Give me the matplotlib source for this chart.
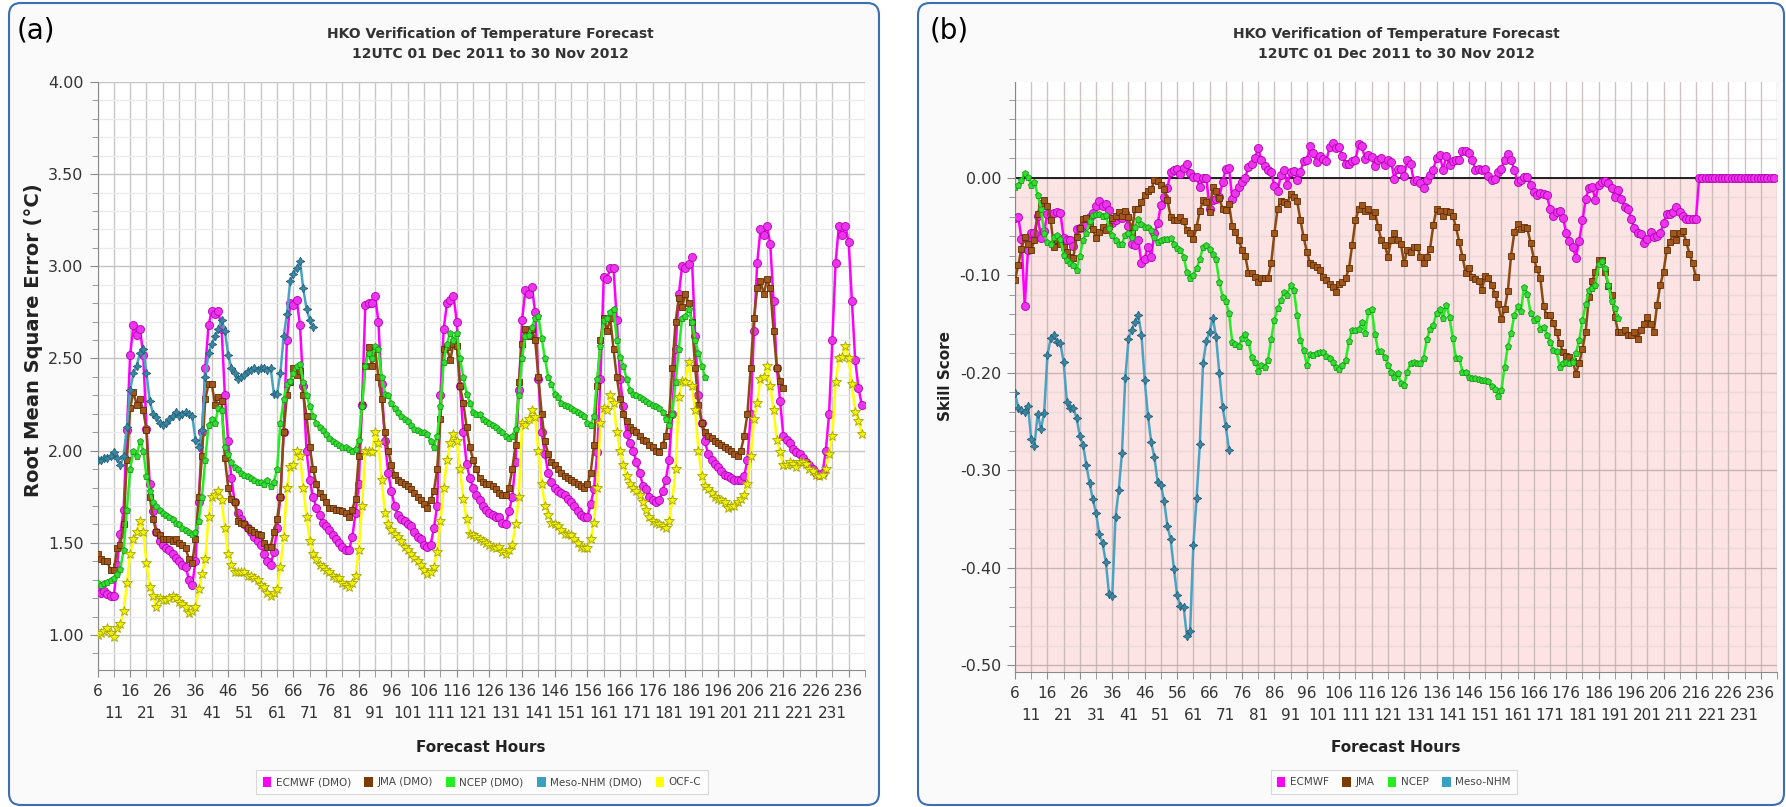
import numpy as np
import matplotlib
matplotlib.use('Agg')
import matplotlib.pyplot as plt
from matplotlib.patches import FancyBboxPatch, Patch
from matplotlib.transforms import IdentityTransform

plt.rcParams['font.family'] = ['DejaVu Sans']

# Panel (a): RMSE (deg C), hourly from forecast hour 6
ecmwf_a = [1.25, 1.23, 1.24, 1.22, 1.21, 1.21,
           1.38, 1.55, 1.68, 2.11, 2.52, 2.68,
           2.63, 2.66, 2.52, 2.12, 1.82, 1.67,
           1.56, 1.51, 1.49, 1.47, 1.46, 1.44,
           1.42, 1.40, 1.38, 1.37, 1.30, 1.27,
           1.40, 1.72, 2.10, 2.45, 2.68, 2.76,
           2.74, 2.76, 2.66, 2.30, 2.05, 1.85,
           1.72, 1.66, 1.63, 1.60, 1.58, 1.56,
           1.53, 1.51, 1.49, 1.44, 1.40, 1.38,
           1.45, 1.58, 1.75, 2.10, 2.60, 2.80,
           2.79, 2.82, 2.68, 2.35, 2.00, 1.84,
           1.75, 1.69, 1.65, 1.61, 1.59, 1.57,
           1.54, 1.52, 1.50, 1.48, 1.46, 1.46,
           1.53, 1.66, 1.82, 2.25, 2.79, 2.80,
           2.80, 2.84, 2.70, 2.36, 2.05, 1.88,
           1.78, 1.70, 1.65, 1.63, 1.62, 1.60,
           1.59, 1.56, 1.53, 1.52, 1.49, 1.48,
           1.49, 1.58, 1.70, 2.30, 2.66, 2.80,
           2.82, 2.84, 2.70, 2.35, 2.10, 1.93,
           1.85, 1.80, 1.76, 1.73, 1.70, 1.68,
           1.66, 1.65, 1.64, 1.64, 1.61, 1.60,
           1.67, 1.75, 1.94, 2.33, 2.71, 2.87,
           2.85, 2.89, 2.75, 2.39, 2.10, 1.98,
           1.88, 1.83, 1.80, 1.78, 1.77, 1.76,
           1.74, 1.72, 1.70, 1.67, 1.65, 1.64,
           1.64, 1.71, 1.79, 1.99, 2.39, 2.94,
           2.93, 2.99, 2.99, 2.71, 2.39, 2.24,
           2.09, 2.04, 2.00, 1.94, 1.88, 1.81,
           1.79, 1.75, 1.73, 1.72, 1.73, 1.78,
           1.84, 1.95, 2.20, 2.55, 2.85, 3.00,
           2.99, 3.01, 3.05, 2.62, 2.30, 2.15,
           2.05, 1.98, 1.95, 1.93, 1.91, 1.89,
           1.87, 1.86, 1.85, 1.84, 1.84, 1.84,
           1.86, 1.95, 2.20, 2.65, 3.02, 3.20,
           3.17, 3.22, 3.12, 2.81, 2.45, 2.27,
           2.08, 2.06, 2.04, 2.01, 1.99, 1.98,
           1.96, 1.94, 1.92, 1.90, 1.88, 1.87,
           1.88, 2.00, 2.20, 2.60, 3.02, 3.22,
           3.17, 3.22, 3.13, 2.81, 2.49, 2.34,
           2.25]

jma_a = [1.44, 1.41, 1.40, 1.40, 1.35, 1.35,
         1.47, 1.49, 1.60, 1.95, 2.23, 2.32,
         2.25, 2.28, 2.22, 2.11, 1.75, 1.63,
         1.56, 1.54, 1.52, 1.52, 1.52, 1.51,
         1.52, 1.50, 1.49, 1.47, 1.41, 1.39,
         1.52, 1.75, 1.97, 2.28, 2.36, 2.36,
         2.25, 2.29, 2.27, 1.96, 1.80, 1.74,
         1.72, 1.62, 1.61, 1.60, 1.58, 1.57,
         1.56, 1.55, 1.54, 1.50, 1.48, 1.48,
         1.56, 1.63, 1.75, 2.10, 2.30, 2.37,
         2.45, 2.41, 2.43, 2.30, 2.19, 2.02,
         1.90, 1.82, 1.77, 1.75, 1.72, 1.69,
         1.69, 1.68, 1.68, 1.67, 1.66, 1.64,
         1.68, 1.74, 1.97, 2.25, 2.46, 2.56,
         2.46, 2.55, 2.40, 2.28, 2.10, 2.00,
         1.92, 1.87, 1.84, 1.83, 1.82, 1.81,
         1.79, 1.77, 1.75, 1.73, 1.71, 1.69,
         1.73, 1.78, 1.90, 2.17, 2.55, 2.56,
         2.49, 2.58, 2.57, 2.35, 2.26, 2.13,
         2.02, 1.95, 1.90, 1.85, 1.83, 1.82,
         1.82, 1.81, 1.79, 1.77, 1.76, 1.76,
         1.80, 1.90, 2.03, 2.37, 2.58, 2.66,
         2.62, 2.66, 2.60, 2.40, 2.20, 2.05,
         1.98, 1.94, 1.92, 1.90, 1.88, 1.86,
         1.85, 1.84, 1.83, 1.82, 1.81, 1.80,
         1.82, 1.88, 2.03, 2.35, 2.60, 2.72,
         2.65, 2.72, 2.55, 2.40, 2.28, 2.20,
         2.16, 2.13, 2.11, 2.10, 2.08, 2.06,
         2.05, 2.03, 2.02, 2.00, 1.99, 2.03,
         2.08, 2.18, 2.45, 2.70, 2.83, 2.78,
         2.85, 2.80, 2.70, 2.45, 2.25, 2.15,
         2.10, 2.08, 2.07, 2.05, 2.04, 2.03,
         2.02, 2.01, 2.00, 1.98, 1.97, 2.00,
         2.08, 2.20, 2.45, 2.72, 2.88, 2.92,
         2.85, 2.93, 2.88, 2.65, 2.45, 2.38,
         2.34]

ncep_a = [1.28, 1.27, 1.28, 1.29, 1.30, 1.31,
          1.33, 1.36, 1.46, 1.68, 1.90, 2.00,
          1.97, 2.05, 2.00, 1.86, 1.78, 1.72,
          1.70, 1.68, 1.66, 1.65, 1.64, 1.63,
          1.61, 1.60, 1.58, 1.57, 1.56, 1.55,
          1.56, 1.62, 1.75, 1.95, 2.14, 2.17,
          2.15, 2.23, 2.22, 2.02, 1.98, 1.94,
          1.91, 1.90, 1.88, 1.87, 1.86, 1.85,
          1.84, 1.83, 1.83, 1.82, 1.84, 1.81,
          1.83, 1.90, 2.15, 2.28, 2.36, 2.38,
          2.42, 2.46, 2.47, 2.37, 2.30, 2.24,
          2.19, 2.15, 2.13, 2.11, 2.09, 2.07,
          2.05, 2.04, 2.03, 2.02, 2.02, 2.01,
          2.00, 2.01, 2.06, 2.24, 2.46, 2.53,
          2.50, 2.57, 2.55, 2.40, 2.31, 2.30,
          2.26, 2.23, 2.21, 2.19, 2.17, 2.16,
          2.14, 2.12, 2.11, 2.10, 2.10, 2.09,
          2.05, 2.02, 2.08, 2.24, 2.48, 2.58,
          2.64, 2.60, 2.64, 2.50, 2.40, 2.31,
          2.26, 2.21, 2.20, 2.20, 2.17, 2.16,
          2.15, 2.14, 2.13, 2.11, 2.10, 2.08,
          2.07, 2.08, 2.12, 2.30, 2.50, 2.62,
          2.63, 2.67, 2.72, 2.73, 2.61, 2.50,
          2.40, 2.36, 2.31, 2.29, 2.26, 2.25,
          2.24, 2.23, 2.22, 2.21, 2.20, 2.19,
          2.15, 2.14, 2.19, 2.39, 2.57, 2.71,
          2.72, 2.75, 2.77, 2.60, 2.51, 2.46,
          2.39, 2.33, 2.31, 2.30, 2.29, 2.28,
          2.27, 2.26, 2.25, 2.24, 2.23, 2.21,
          2.17, 2.14, 2.20, 2.37, 2.55, 2.72,
          2.73, 2.77, 2.70, 2.60, 2.53, 2.46,
          2.40]

meso_a = [1.95, 1.95, 1.96, 1.96, 1.97, 1.99, 1.96, 1.92, 1.97, 2.13,
          2.33, 2.42, 2.46, 2.53, 2.55, 2.42, 2.27, 2.20, 2.18, 2.15,
          2.14, 2.15, 2.17, 2.19, 2.21, 2.19, 2.20, 2.21, 2.20, 2.19,
          2.06, 2.02, 2.11, 2.40, 2.53, 2.58, 2.62, 2.66, 2.71, 2.65,
          2.52, 2.45, 2.42, 2.39, 2.40, 2.41, 2.43, 2.44, 2.45, 2.44,
          2.45, 2.45, 2.44, 2.45, 2.31, 2.31, 2.42, 2.62, 2.74, 2.92,
          2.96, 2.99, 3.03, 2.88, 2.77, 2.71, 2.67]

ocf_a = [1.00, 1.01, 1.02, 1.04, 1.01, 0.99,
         1.04, 1.06, 1.13, 1.28, 1.44, 1.52,
         1.56, 1.62, 1.56, 1.39, 1.26, 1.21,
         1.15, 1.20, 1.19, 1.19, 1.20, 1.21,
         1.20, 1.18, 1.17, 1.15, 1.12, 1.13,
         1.15, 1.25, 1.33, 1.41, 1.64, 1.75,
         1.76, 1.78, 1.73, 1.58, 1.44, 1.38,
         1.34, 1.34, 1.34, 1.34, 1.32, 1.32,
         1.31, 1.30, 1.27, 1.26, 1.23, 1.21,
         1.23, 1.25, 1.37, 1.53, 1.80, 1.91,
         1.92, 2.00, 1.97, 1.80, 1.64, 1.51,
         1.44, 1.41, 1.38, 1.37, 1.35, 1.34,
         1.32, 1.31, 1.31, 1.28, 1.27, 1.26,
         1.28, 1.32, 1.46, 1.70, 2.00, 2.00,
         1.99, 2.10, 2.04, 1.84, 1.66, 1.60,
         1.57, 1.55, 1.53, 1.51, 1.48, 1.46,
         1.44, 1.42, 1.40, 1.38, 1.35, 1.33,
         1.34, 1.37, 1.45, 1.62, 1.80, 1.95,
         2.04, 2.09, 2.05, 1.90, 1.74, 1.63,
         1.55, 1.54, 1.53, 1.52, 1.51, 1.50,
         1.49, 1.48, 1.47, 1.48, 1.45, 1.44,
         1.46, 1.49, 1.60, 1.75, 2.15, 2.14,
         2.17, 2.22, 2.18, 2.00, 1.82, 1.70,
         1.65, 1.61, 1.60, 1.59, 1.57, 1.55,
         1.55, 1.54, 1.52, 1.50, 1.48, 1.47,
         1.47, 1.52, 1.61, 1.80, 2.15, 2.23,
         2.22, 2.30, 2.26, 2.10, 2.00, 1.92,
         1.86, 1.82, 1.80, 1.78, 1.76, 1.72,
         1.68, 1.64, 1.62, 1.61, 1.60, 1.59,
         1.58, 1.62, 1.73, 1.90, 2.29, 2.38,
         2.37, 2.48, 2.35, 2.22, 2.00, 1.86,
         1.81, 1.79, 1.77, 1.75, 1.74, 1.73,
         1.72, 1.69, 1.70, 1.70, 1.72, 1.74,
         1.76, 1.82, 1.97, 2.17, 2.26, 2.39,
         2.40, 2.46, 2.35, 2.22, 2.06, 1.99,
         1.92, 1.92, 1.94, 1.93, 1.91, 1.94,
         1.94, 1.93, 1.90, 1.89, 1.87, 1.86,
         1.87, 1.90, 1.98, 2.08, 2.37, 2.50,
         2.51, 2.57, 2.50, 2.36, 2.21, 2.16,
         2.09]

# Panel (b): skill score, hourly from forecast hour 6
ecmwf_b = [-0.041, -0.040, -0.063, -0.132, -0.074, -0.057,
           -0.057, -0.039, -0.062, -0.055, -0.037, -0.037,
           -0.036, -0.035, -0.036, -0.062, -0.064, -0.064,
           -0.070, -0.053, -0.052, -0.050, -0.049, -0.040,
           -0.036, -0.029, -0.024, -0.029, -0.027, -0.033,
           -0.047, -0.044, -0.039, -0.041, -0.036, -0.050,
           -0.068, -0.069, -0.064, -0.088, -0.083, -0.071,
           -0.081, -0.057, -0.047, -0.028, -0.020, -0.011,
           0.006, 0.008, 0.009, 0.004, 0.010, 0.014,
           0.005, 0.001, 0.001, -0.010, 0.000, 0.000,
           -0.032, -0.023, -0.022, -0.020, -0.005, 0.009,
           0.010, -0.022, -0.016, -0.010, -0.005, 0.000,
           0.011, 0.014, 0.020, 0.030, 0.018, 0.012,
           0.008, 0.006, -0.009, -0.014, 0.003, 0.008,
           -0.008, 0.006, 0.007, -0.003, 0.006, 0.017,
           0.018, 0.032, 0.025, 0.016, 0.022, 0.019,
           0.017, 0.031, 0.035, 0.030, 0.031, 0.022,
           0.014, 0.014, 0.017, 0.018, 0.034, 0.032,
           0.019, 0.023, 0.021, 0.012, 0.018, 0.020,
           0.013, 0.018, 0.016, -0.001, 0.009, 0.009,
           0.002, 0.018, 0.014, -0.004, -0.002, -0.006,
           -0.011, -0.003, 0.003, 0.008, 0.020, 0.023,
           0.008, 0.022, 0.013, 0.017, 0.018, 0.018,
           0.027, 0.027, 0.025, 0.018, 0.008, 0.009,
           0.008, 0.009, 0.002, -0.003, -0.001, 0.006,
           0.009, 0.018, 0.024, 0.018, 0.008, -0.005,
           -0.002, 0.001, 0.001, -0.008, -0.015, -0.018,
           -0.016, -0.017, -0.018, -0.032, -0.039, -0.035,
           -0.034, -0.041, -0.057, -0.065, -0.071, -0.082,
           -0.065, -0.044, -0.022, -0.011, -0.010, -0.023,
           -0.008, -0.005, -0.004, -0.006, -0.011, -0.020,
           -0.013, -0.022, -0.030, -0.032, -0.042, -0.052,
           -0.057, -0.058, -0.067, -0.063, -0.056, -0.061,
           -0.060, -0.057, -0.047, -0.037, -0.037, -0.035,
           -0.030, -0.035, -0.039, -0.042, -0.042, -0.042,
           -0.042, 0.0, 0.0, 0.0, 0.0, 0.0,
           0.0, 0.0, 0.0, 0.0, 0.0, 0.0,
           0.0, 0.0, 0.0, 0.0, 0.0, 0.0,
           0.0, 0.0, 0.0, 0.0, 0.0, 0.0,
           0.0]

jma_b = [-0.105, -0.090, -0.073, -0.061, -0.068, -0.074,
         -0.064, -0.037, -0.026, -0.023, -0.029, -0.044,
         -0.071, -0.064, -0.068, -0.071, -0.076, -0.081,
         -0.082, -0.061, -0.052, -0.042, -0.041, -0.049,
         -0.053, -0.062, -0.056, -0.051, -0.054, -0.050,
         -0.041, -0.039, -0.035, -0.039, -0.034, -0.040,
         -0.057, -0.032, -0.032, -0.025, -0.018, -0.014,
         -0.012, -0.003, -0.004, -0.008, -0.012, -0.023,
         -0.040, -0.043, -0.043, -0.040, -0.045, -0.054,
         -0.057, -0.063, -0.051, -0.034, -0.023, -0.025,
         -0.035, -0.010, -0.014, -0.021, -0.032, -0.033,
         -0.027, -0.050, -0.056, -0.064, -0.074, -0.080,
         -0.098, -0.098, -0.102, -0.107, -0.103, -0.103,
         -0.103, -0.088, -0.057, -0.032, -0.024, -0.025,
         -0.027, -0.017, -0.020, -0.024, -0.043, -0.061,
         -0.076, -0.088, -0.090, -0.092, -0.095, -0.102,
         -0.105, -0.109, -0.112, -0.117, -0.109, -0.107,
         -0.103, -0.093, -0.069, -0.044, -0.032, -0.028,
         -0.034, -0.032, -0.039, -0.035, -0.051, -0.064,
         -0.069, -0.081, -0.064, -0.057, -0.064, -0.068,
         -0.088, -0.074, -0.076, -0.071, -0.071, -0.081,
         -0.088, -0.081, -0.073, -0.049, -0.032, -0.034,
         -0.039, -0.034, -0.035, -0.039, -0.051, -0.066,
         -0.081, -0.098, -0.093, -0.102, -0.104, -0.106,
         -0.115, -0.101, -0.103, -0.110, -0.119, -0.130,
         -0.145, -0.135, -0.116, -0.080, -0.056, -0.048,
         -0.053, -0.051, -0.052, -0.067, -0.083, -0.094,
         -0.103, -0.132, -0.141, -0.141, -0.149, -0.158,
         -0.170, -0.179, -0.183, -0.184, -0.188, -0.201,
         -0.190, -0.176, -0.158, -0.122, -0.106, -0.097,
         -0.085, -0.085, -0.097, -0.111, -0.120, -0.143,
         -0.158, -0.158, -0.156, -0.161, -0.161, -0.158,
         -0.166, -0.156, -0.150, -0.143, -0.150, -0.158,
         -0.131, -0.110, -0.097, -0.074, -0.066, -0.057,
         -0.064, -0.057, -0.055, -0.066, -0.078, -0.088,
         -0.102]

ncep_b = [-0.010, -0.008, -0.003, 0.005, 0.001, -0.008,
          -0.005, -0.018, -0.032, -0.057, -0.066, -0.068,
          -0.061, -0.059, -0.063, -0.079, -0.085, -0.088,
          -0.090, -0.095, -0.080, -0.064, -0.057, -0.045,
          -0.038, -0.037, -0.037, -0.039, -0.038, -0.052,
          -0.059, -0.064, -0.068, -0.068, -0.059, -0.057,
          -0.061, -0.051, -0.042, -0.048, -0.051, -0.051,
          -0.054, -0.061, -0.066, -0.064, -0.063, -0.063,
          -0.062, -0.068, -0.072, -0.074, -0.081, -0.097,
          -0.103, -0.100, -0.093, -0.084, -0.071, -0.069,
          -0.073, -0.078, -0.084, -0.107, -0.122, -0.127,
          -0.139, -0.169, -0.171, -0.173, -0.165, -0.160,
          -0.169, -0.184, -0.189, -0.198, -0.192, -0.194,
          -0.187, -0.166, -0.146, -0.134, -0.126, -0.117,
          -0.120, -0.110, -0.115, -0.141, -0.167, -0.177,
          -0.192, -0.181, -0.182, -0.180, -0.179, -0.179,
          -0.183, -0.185, -0.189, -0.194, -0.196, -0.192,
          -0.187, -0.168, -0.156, -0.156, -0.155, -0.148,
          -0.159, -0.137, -0.135, -0.160, -0.178, -0.178,
          -0.184, -0.192, -0.199, -0.204, -0.200, -0.211,
          -0.213, -0.199, -0.190, -0.189, -0.190, -0.190,
          -0.185, -0.166, -0.155, -0.151, -0.139, -0.135,
          -0.144, -0.131, -0.143, -0.165, -0.185, -0.185,
          -0.199, -0.199, -0.204, -0.206, -0.206, -0.207,
          -0.208, -0.208, -0.209, -0.214, -0.217, -0.224,
          -0.218, -0.194, -0.173, -0.159, -0.141, -0.132,
          -0.137, -0.112, -0.119, -0.139, -0.146, -0.144,
          -0.155, -0.153, -0.161, -0.169, -0.177, -0.178,
          -0.194, -0.190, -0.189, -0.190, -0.189, -0.180,
          -0.167, -0.146, -0.130, -0.115, -0.113, -0.110,
          -0.089, -0.086, -0.093, -0.110, -0.127, -0.134,
          -0.144]

meso_b = [-0.221, -0.236, -0.238, -0.240, -0.234, -0.268, -0.275, -0.242,
          -0.258, -0.241, -0.182, -0.165, -0.161, -0.169, -0.170, -0.189,
          -0.230, -0.236, -0.236, -0.247, -0.265, -0.274, -0.295, -0.313,
          -0.330, -0.344, -0.366, -0.375, -0.394, -0.427, -0.429, -0.348,
          -0.320, -0.282, -0.206, -0.166, -0.156, -0.148, -0.141, -0.161,
          -0.208, -0.244, -0.271, -0.287, -0.312, -0.315, -0.332, -0.357,
          -0.371, -0.401, -0.428, -0.439, -0.440, -0.470, -0.465, -0.377,
          -0.329, -0.273, -0.190, -0.168, -0.158, -0.144, -0.163, -0.200,
          -0.235, -0.255, -0.279]

labels_a = ['ECMWF (DMO)', 'JMA (DMO)', 'NCEP (DMO)', 'Meso-NHM (DMO)', 'OCF-C']
labels_b = ['ECMWF', 'JMA', 'NCEP', 'Meso-NHM']

W, H = 1786, 807

# line colour, marker, size, marker face, marker edge
styles = {
    'ecmwf': ('#ff00ff', 'o', 5.8, '#ee33ee', '#b000b0'),
    'jma': ('#8b4a12', 's', 4.0, '#a0561c', '#5e2d00'),
    'ncep': ('#22ee22', 'p', 5.0, '#33dd33', '#179a17'),
    'meso': ('#4aa3c2', (4, 1, 0), 6.2, '#3a87a2', '#24607a'),
    'ocf': ('#ffff00', '*', 7.2, '#f2f200', '#a5a500'),
}
legend_colors = {'ecmwf': '#ff00ff', 'jma': '#7a3c00', 'ncep': '#22ee22',
                 'meso': '#3aa0c0', 'ocf': '#ffff00'}


def plot_series(ax, vals, key):
    c, m, ms, mfc, mec = styles[key]
    hours = np.arange(6, 6 + len(vals))
    ax.plot(hours, vals, color=c, lw=1.8, marker=m, ms=ms, mfc=mfc,
            mec=mec, mew=0.6, zorder=3, solid_joinstyle='round')


def style_x(ax):
    ax.set_xlim(6, 241)
    top_row = np.arange(6, 237, 10)
    low_row = np.arange(11, 242, 10)
    ax.set_xticks(top_row)
    ax.set_xticklabels([str(h) for h in top_row])
    ax.set_xticks(low_row, minor=True)
    ax.set_xticklabels([str(h) if h < 241 else '' for h in low_row], minor=True)
    ax.tick_params(axis='x', which='major', length=5, color='#8a8a8a',
                   labelsize=11, labelcolor='#333333', pad=5)
    ax.tick_params(axis='x', which='minor', length=5, color='#8a8a8a',
                   labelsize=11, labelcolor='#333333', pad=21)
    ax.tick_params(axis='y', which='major', length=6, color='#8a8a8a',
                   labelsize=11.5, labelcolor='#333333', pad=4)
    ax.tick_params(axis='y', which='minor', length=4, color='#8a8a8a')
    ax.grid(axis='x', which='both', color='#c8c8c8', lw=1, zorder=1)
    for s in ('top', 'right'):
        ax.spines[s].set_visible(False)
    for s in ('left', 'bottom'):
        ax.spines[s].set_color('#8a8a8a')
    ax.set_axisbelow(True)


def frame(fig, x0, y0, x1, y1):
    box = FancyBboxPatch((x0, H - y1), x1 - x0, y1 - y0,
                         boxstyle='round,pad=0,rounding_size=12',
                         transform=IdentityTransform(), facecolor='#fafafa',
                         edgecolor='#3c6db5', linewidth=1.5, zorder=0)
    fig.add_artist(box)


fig = plt.figure(figsize=(W / 100, H / 100), dpi=100)
fig.patch.set_facecolor('white')
frame(fig, 9, 3, 879, 805)
frame(fig, 918, 3, 1784, 805)

# ---- panel (a)
ax = fig.add_axes([97.5 / W, 1 - 670 / H, (865 - 97.5) / W, (670 - 82) / H])
ax.set_facecolor('white')
style_x(ax)
ax.set_ylim(0.81, 4.0)
ya = np.arange(1.0, 4.01, 0.5)
ax.set_yticks(ya)
ax.set_yticklabels(['%.2f' % v for v in ya])
ax.set_yticks(np.round(np.arange(0.9, 4.0, 0.1), 2), minor=True)
ax.grid(axis='y', which='major', color='#c4c4c4', lw=1)
ax.grid(axis='y', which='minor', color='#ebebeb', lw=1)
plot_series(ax, ecmwf_a, 'ecmwf')
plot_series(ax, jma_a, 'jma')
plot_series(ax, ncep_a, 'ncep')
plot_series(ax, meso_a, 'meso')
plot_series(ax, ocf_a, 'ocf')

# ---- panel (b)
bx = fig.add_axes([1015 / W, 1 - 672 / H, (1777 - 1015) / W, (672 - 82) / H])
bx.set_facecolor('white')
style_x(bx)
bx.set_ylim(-0.507, 0.098)
bt = [-0.5, -0.4, -0.3, -0.2, -0.1, 0.0]
bx.set_yticks(bt)
bx.set_yticklabels(['-0.50', '-0.40', '-0.30', '-0.20', '-0.10', '0.00'])
bx.set_yticks(np.round(np.arange(-0.5, 0.1, 0.02), 2), minor=True)
bx.axhspan(-0.507, 0, color='#fde4e4', zorder=0)
bx.grid(axis='y', which='major', color='#bba8a8', lw=1, alpha=0.8)
bx.grid(axis='y', which='minor', color='#d8cccc', lw=1, alpha=0.45)
bx.grid(axis='x', which='both', color='#b8a8a8', lw=1, alpha=0.7)
bx.axhline(0, color='#111111', lw=1.3, zorder=2)
plot_series(bx, ecmwf_b, 'ecmwf')
plot_series(bx, jma_b, 'jma')
plot_series(bx, ncep_b, 'ncep')
plot_series(bx, meso_b, 'meso')

# ---- texts
for cx in (490, 1396):
    fig.text(cx / W, 1 - 34 / H, 'HKO Verification of Temperature Forecast',
             ha='center', va='center', fontsize=10, fontweight='bold',
             color='#333333')
    fig.text(cx / W, 1 - 54 / H, '12UTC 01 Dec 2011 to 30 Nov 2012',
             ha='center', va='center', fontsize=10, fontweight='bold',
             color='#333333')
fig.text(17 / W, 1 - 31 / H, '(a)', ha='left', va='center', fontsize=20)
fig.text(930 / W, 1 - 31 / H, '(b)', ha='left', va='center', fontsize=20)

fig.text(481 / W, 1 - 747 / H, 'Forecast Hours', ha='center', va='center',
         fontsize=11, fontweight='bold', color='#222222')
fig.text(1396 / W, 1 - 747 / H, 'Forecast Hours', ha='center', va='center',
         fontsize=11, fontweight='bold', color='#222222')
fig.text(34 / W, 1 - 340 / H, 'Root Mean Square Error (°C)', ha='center',
         va='center', rotation=90, fontsize=14, fontweight='bold',
         color='#222222')
fig.text(945 / W, 1 - 376 / H, 'Skill Score', ha='center', va='center',
         rotation=90, fontsize=11, fontweight='bold', color='#222222')


def legend(keys, labels, cx):
    handles = [Patch(facecolor=legend_colors[k], edgecolor='none') for k in keys]
    leg = fig.legend(handles, labels, loc='center', ncol=len(keys),
                     bbox_to_anchor=(cx / W, 1 - 782 / H), fontsize=7.5,
                     frameon=True, fancybox=False, edgecolor='#d0d0d0',
                     handlelength=0.8, handleheight=1.1, handletextpad=0.45,
                     columnspacing=1.3, borderpad=0.6)
    leg.get_frame().set_linewidth(0.8)
    for t in leg.get_texts():
        t.set_color('#444444')


legend(['ecmwf', 'jma', 'ncep', 'meso', 'ocf'], labels_a, 482)
legend(['ecmwf', 'jma', 'ncep', 'meso'], labels_b, 1394)

fig.savefig('out.png', dpi=100)
